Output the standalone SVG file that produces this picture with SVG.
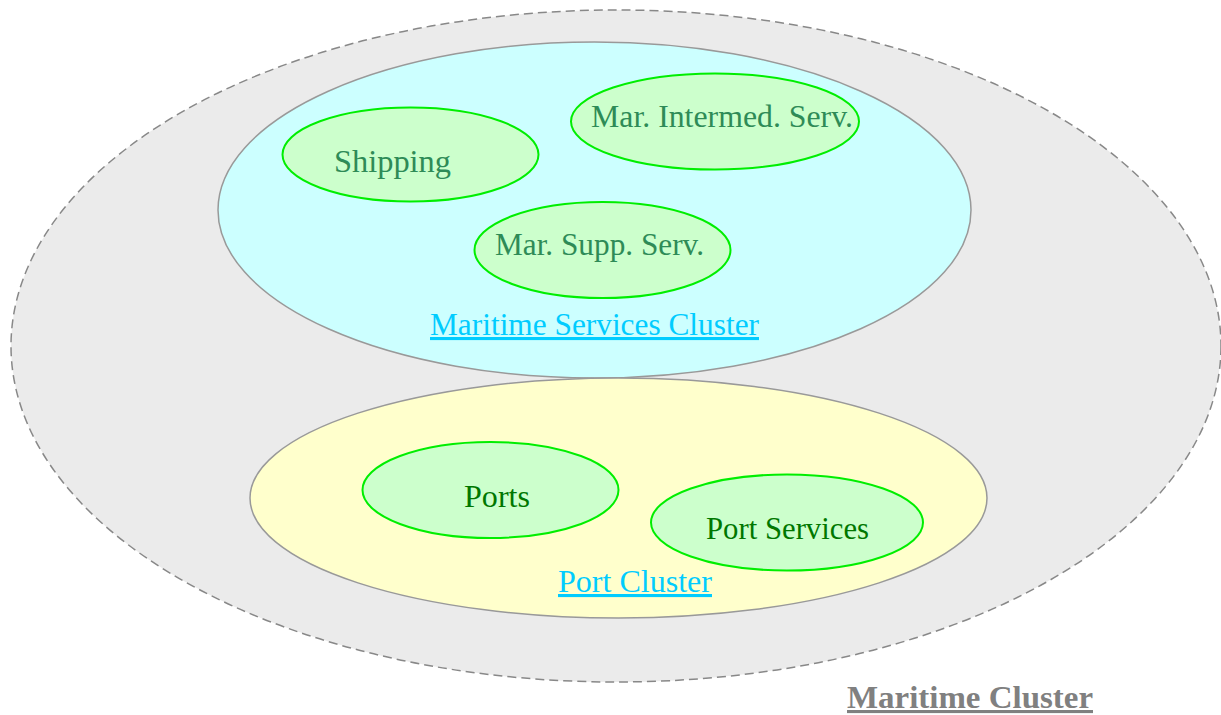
<svg xmlns="http://www.w3.org/2000/svg" width="1221" height="715" viewBox="0 0 1221 715">
  <style>
    .t { font-family: "Liberation Serif", "DejaVu Serif", serif; font-size: 31px; }
    .sub { fill: #ccffcc; stroke: #00ee00; stroke-width: 2; }
    .sea { fill: #2e8b57; }
    .port { fill: #007700; }
    .link { fill: #00ccff; text-decoration: underline; }
  </style>
  <rect width="1221" height="715" fill="#ffffff"/>

  <g id="maritime-cluster">
    <ellipse cx="616" cy="346" rx="605" ry="336" fill="#ebebeb" stroke="#888888" stroke-width="1.5" stroke-dasharray="9,5"/>
    <text class="t" x="847" y="708" font-size="29" textLength="246" lengthAdjust="spacingAndGlyphs" font-weight="bold" fill="#808080" text-decoration="underline">Maritime Cluster</text>
  </g>

  <g id="maritime-services-cluster">
    <ellipse cx="594.5" cy="210" rx="376.5" ry="168" fill="#ccffff" stroke="#999999" stroke-width="1.5"/>
    <text class="t link" x="430" y="335" textLength="329" lengthAdjust="spacingAndGlyphs">Maritime Services Cluster</text>
  </g>

  <g id="port-cluster">
    <ellipse cx="618.5" cy="498" rx="368.5" ry="120" fill="#ffffcc" stroke="#999999" stroke-width="1.5"/>
    <text class="t link" x="558" y="592" textLength="154" lengthAdjust="spacingAndGlyphs">Port Cluster</text>
  </g>

  <g id="shipping">
    <ellipse class="sub" cx="410.5" cy="154.5" rx="128" ry="47"/>
    <text class="t sea" x="334" y="172" textLength="117" lengthAdjust="spacingAndGlyphs">Shipping</text>
  </g>

  <g id="mar-intermed-serv">
    <ellipse class="sub" cx="715" cy="121.5" rx="144" ry="48"/>
    <text class="t sea" x="591" y="127" textLength="262" lengthAdjust="spacingAndGlyphs">Mar. Intermed. Serv.</text>
  </g>

  <g id="mar-supp-serv">
    <ellipse class="sub" cx="602.5" cy="250" rx="128" ry="48"/>
    <text class="t sea" x="495" y="255" textLength="209" lengthAdjust="spacingAndGlyphs">Mar. Supp. Serv.</text>
  </g>

  <g id="ports">
    <ellipse class="sub" cx="490.5" cy="490" rx="128" ry="48"/>
    <text class="t port" x="464" y="507" textLength="66" lengthAdjust="spacingAndGlyphs">Ports</text>
  </g>

  <g id="port-services">
    <ellipse class="sub" cx="787" cy="522.5" rx="136" ry="48"/>
    <text class="t port" x="706" y="539" textLength="163" lengthAdjust="spacingAndGlyphs">Port Services</text>
  </g>

  <g id="connectors"/>
</svg>
